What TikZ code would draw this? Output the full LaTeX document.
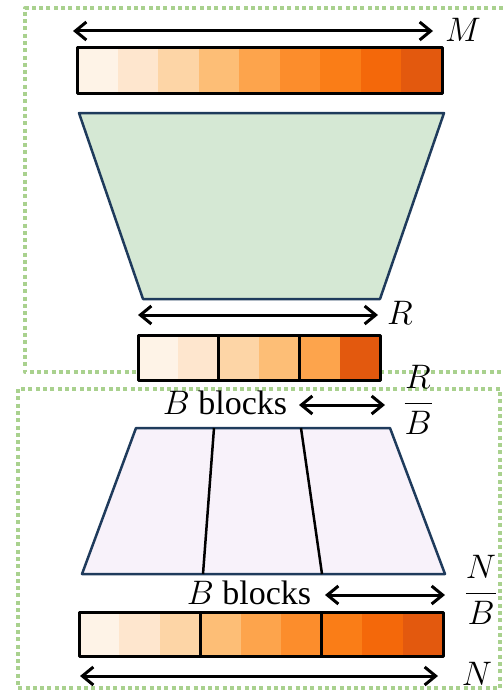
\documentclass[tikz,border=0pt]{standalone}
\usepackage{fix-cm}
\usepackage{fontspec}
\setmainfont{Liberation Serif}
\usetikzlibrary{arrows.meta}

% Bảng màu cam cho các ô
\definecolor{o1}{HTML}{FEF3E7}
\definecolor{o2}{HTML}{FEE6CE}
\definecolor{o3}{HTML}{FDD5A6}
\definecolor{o4}{HTML}{FDBE76}
\definecolor{o5}{HTML}{FDA44C}
\definecolor{o6}{HTML}{FC8D2C}
\definecolor{o7}{HTML}{FA7D17}
\definecolor{o8}{HTML}{F4680A}
\definecolor{o9}{HTML}{E3590E}
\definecolor{dotgreen}{HTML}{A9D18E}
\definecolor{encfill}{HTML}{D5E8D4}
\definecolor{decfill}{HTML}{F8F2FA}
\definecolor{navy}{HTML}{1F3B5C}

\begin{document}
\begin{tikzpicture}[x=1pt, y=-1pt, line join=round, font=\fontsize{34}{40}\selectfont,
	dim/.style={line width=3pt, {Straight Barb[length=11pt,width=18pt]}-{Straight Barb[length=11pt,width=18pt]}},
	frame/.style={dotgreen, line width=4pt, dash pattern=on 4pt off 3.3pt},
	trap/.style={draw=navy, line width=2.5pt},
	bar/.style={draw=black, line width=3pt}]

	\useasboundingbox (0,0) rectangle (503,693);

	% Khung chấm xanh
	\draw[frame] (503,8) -- (25,8) -- (25,372) -- (503,372);
	\draw[frame] (18,389) rectangle (500,688);

	% Thanh trên cùng (M)
	\foreach \c [count=\i from 0] in {o1,o2,o3,o4,o5,o6,o7,o8,o9} {
		\fill[\c] ({77+\i*40.56},48) rectangle ({77+(\i+1)*40.56},93);
	}
	\draw[bar] (77,48) rectangle (442,93);
	\coordinate (M1) at (73,31);
	\coordinate (M2) at (433,31);
	\draw[dim] (M1) -- (M2);
	\node (M) at (463,30) {$M$};

	% Hình thang xanh
	\coordinate (E1) at (79,113);
	\coordinate (E2) at (444,113);
	\coordinate (E3) at (380,299);
	\coordinate (E4) at (143,299);
	\draw[trap, fill=encfill] (E1) -- (E2) -- (E3) -- (E4) -- cycle;

	% Thanh giữa (R)
	\coordinate (R1) at (138,315);
	\coordinate (R2) at (378,315);
	\draw[dim] (R1) -- (R2);
	\node (R) at (400,313) {$R$};
	\foreach \c [count=\i from 0] in {o1,o2,o3,o4,o5,o9} {
		\fill[\c] ({138+\i*40.33},335) rectangle ({138+(\i+1)*40.33},380);
	}
	\draw[bar] (138,335) rectangle (380,380);
	\foreach \x in {218.7, 299.3} {
		\draw[line width=2.5pt] (\x,335) -- (\x,380);
	}

	% Nhãn B blocks phía trên
	\node (bk1) at (225,403) {$B$ blocks};
	\coordinate (K1) at (299,405);
	\coordinate (K2) at (385,405);
	\draw[dim] (K1) -- (K2);
	\node (RB) at (418,400) {$\displaystyle\frac{R}{B}$};

	% Hình thang tím
	\coordinate (D1) at (136,428);
	\coordinate (D2) at (390,428);
	\coordinate (D3) at (445,574);
	\coordinate (D4) at (82,574);
	\draw[trap, fill=decfill] (D1) -- (D2) -- (D3) -- (D4) -- cycle;
	\draw[line width=2.5pt] (214,428) -- (203,574);
	\draw[line width=2.5pt] (301,428) -- (322,574);

	% Nhãn B blocks phía dưới
	\node (bk2) at (249,593) {$B$ blocks};
	\coordinate (L1) at (325,595);
	\coordinate (L2) at (445,595);
	\draw[dim] (L1) -- (L2);
	\node (NB) at (481,590) {$\displaystyle\frac{N}{B}$};

	% Thanh dưới cùng (N)
	\foreach \c [count=\i from 0] in {o1,o2,o3,o4,o5,o6,o7,o8,o9} {
		\fill[\c] ({79+\i*40.44},612) rectangle ({79+(\i+1)*40.44},656);
	}
	\draw[bar] (79,612) rectangle (443,656);
	\foreach \x in {200.3, 321.7} {
		\draw[line width=2.5pt] (\x,612) -- (\x,656);
	}
	\coordinate (N1) at (80,676);
	\coordinate (N2) at (438,676);
	\draw[dim] (N1) -- (N2);
	\node (N) at (477,674) {$N$};

\end{tikzpicture}
\end{document}
